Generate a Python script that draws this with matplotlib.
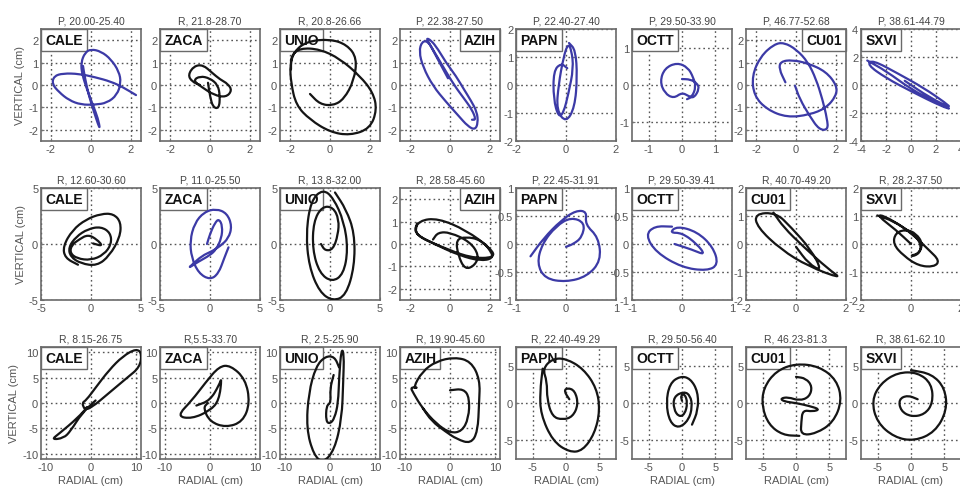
import numpy as np
import matplotlib
matplotlib.use("Agg")
import matplotlib.pyplot as plt
from matplotlib.offsetbox import AnchoredText
from matplotlib.path import Path
from matplotlib.patches import PathPatch

plt.rcParams['font.family'] = ['Liberation Sans', 'DejaVu Sans']

# station order (columns) and panel titles (rows)
stations = ['CALE', 'ZACA', 'UNIO', 'AZIH', 'PAPN', 'OCTT', 'CU01', 'SXVI']
titles_r1 = ['P, 20.00-25.40', 'R, 21.8-28.70', 'R, 20.8-26.66', 'P, 22.38-27.50',
             'P, 22.40-27.40', 'P, 29.50-33.90', 'P, 46.77-52.68', 'P, 38.61-44.79']
titles_r2 = ['R, 12.60-30.60', 'P, 11.0-25.50', 'R, 13.8-32.00', 'R, 28.58-45.60',
             'P, 22.45-31.91', 'P, 29.50-39.41', 'R, 40.70-49.20', 'R, 28.2-37.50']
titles_r3 = ['R, 8.15-26.75', 'R,5.5-33.70', 'R, 2.5-25.90', 'R, 19.90-45.60',
             'R, 22.40-49.29', 'R, 29.50-56.40', 'R, 46.23-81.3', 'R, 38.61-62.10']

# axis half-ranges and ticks
lim_r1 = [2.5, 2.5, 2.5, 2.5, 2.0, 1.5, 2.5, 4.0]
xt_r1 = [[-2, 0, 2]] * 5 + [[-1, 0, 1], [-2, 0, 2], [-4, -2, 0, 2, 4]]
yt_r1 = [[-2, -1, 0, 1, 2]] * 5 + [[-1, 0, 1], [-2, -1, 0, 1, 2], [-4, -2, 0, 2, 4]]
lim_r2 = [5, 5, 5, 2.5, 1, 1, 2, 2]
xt_r2 = [[-5, 0, 5]] * 3 + [[-2, 0, 2], [-1, 0, 1], [-1, 0, 1], [-2, 0, 2], [-2, 0, 2]]
yt_r2 = [[-5, 0, 5]] * 3 + [[-2, -1, 0, 1, 2], [-1, -0.5, 0, 0.5, 1], [-1, -0.5, 0, 0.5, 1],
                            [-2, -1, 0, 1, 2], [-2, -1, 0, 1, 2]]
lim_r3 = [11, 11, 11, 11, 7.5, 7.5, 7.5, 7.5]
xt_r3 = [[-10, 0, 10]] * 4 + [[-5, 0, 5]] * 4
yt_r3 = [[-10, -5, 0, 5, 10]] * 4 + [[-5, 0, 5]] * 4

# label box on the right for these panels
right_labels = [(0, 3), (0, 6), (1, 3)]

# particle motion traces (radial, vertical)
r1_cale = [(-0.4, 0.85), (-0.3, 0.3), (-0.1, -0.5), (0.15, -1.2), (0.35, -1.75), (0.45, -1.95),
           (0.35, -1.5), (0.1, -0.9), (-0.2, -0.2), (-0.45, 0.5), (-0.5, 1.0), (-0.3, 1.45),
           (0.0, 1.6), (0.5, 1.5), (1.0, 1.15), (1.4, 0.6), (1.5, 0.1), (1.3, -0.45),
           (0.8, -0.8), (0.2, -0.88), (-0.5, -0.88), (-1.1, -0.68), (-1.6, -0.32), (-1.95, 0.05),
           (-1.85, 0.4), (-1.4, 0.52), (-0.6, 0.5), (0.2, 0.35), (1.0, 0.15), (1.6, -0.1),
           (2.25, -0.45)]
r1_zaca = [(-0.5, 0.0), (-0.9, 0.15), (-1.1, 0.45), (-0.8, 0.85), (-0.35, 0.9), (0.1, 0.55),
           (0.5, 0.25), (0.9, 0.05), (1.1, -0.25), (0.8, -0.55), (0.2, -0.45), (-0.4, -0.1),
           (-0.85, 0.2), (-0.5, 0.4), (0.0, 0.3), (0.4, 0.0), (0.5, -0.5), (0.45, -1.05),
           (0.15, -1.0), (0.0, -0.5), (-0.1, 0.1)]
r1_unio = [(-1.0, -0.4), (-0.5, -0.86), (0.16, -0.92), (0.7, -0.63), (1.2, 0.2), (1.35, 1.2),
           (0.85, 1.8), (0.0, 2.05), (-1.15, 1.95), (-1.8, 1.5), (-2.0, 0.87), (-1.95, 0.1),
           (-1.7, -0.9), (-1.0, -1.55), (0.0, -2.1), (1.0, -2.25), (2.0, -1.95), (2.35, -1.1),
           (2.15, -0.33), (1.5, 0.4), (0.5, 1.17), (-0.5, 1.6), (-1.5, 1.65), (-1.95, 1.3),
           (-1.95, 0.7)]
r1_azih = [(-0.1, 0.3), (-0.4, 0.8), (-0.7, 1.3), (-1.0, 1.8), (-1.2, 2.1), (-0.95, 2.0),
           (-0.6, 1.6), (-0.2, 1.0), (0.3, 0.4), (0.7, -0.2), (1.05, -0.7), (1.35, -1.2),
           (1.4, -1.7), (1.25, -2.0), (0.9, -1.85), (0.4, -1.35), (-0.2, -0.75), (-0.85, -0.05),
           (-1.35, 0.8), (-1.55, 1.5), (-1.4, 1.95), (-1.1, 1.95), (-0.8, 1.5), (-0.4, 0.9),
           (0.2, 0.0), (0.7, -0.6), (1.1, -1.1), (1.3, -1.55), (1.1, -1.55)]
r1_papn = [(0.05, 0.6), (-0.2, 0.78), (-0.5, 0.5), (-0.5, -0.5), (-0.3, -1.15), (-0.1, -1.0),
           (0.1, -0.3), (0.3, 0.6), (0.22, 1.25), (0.08, 1.48), (-0.1, 1.0), (-0.3, 0.0),
           (-0.38, -0.9), (0.0, -1.35), (0.35, -0.8), (0.45, 0.3), (0.38, 1.25), (0.12, 1.5)]
r1_octt = [(0.0, 0.16), (0.25, 0.15), (0.45, 0.05), (0.52, -0.1), (0.36, -0.35), (0.2, -0.3),
           (0.0, -0.2), (-0.25, -0.36), (-0.52, -0.22), (-0.66, 0.1), (-0.52, 0.45),
           (-0.15, 0.6), (0.18, 0.47), (0.34, 0.2), (0.42, -0.05), (0.3, -0.32), (0.15, -0.38)]
r1_cu01 = [(-0.53, 0.12), (-0.85, 0.72), (-0.77, 1.05), (-0.2, 1.12), (0.6, 0.97), (1.5, 0.6),
           (2.05, -0.03), (2.0, -0.5), (1.5, -1.03), (0.68, -1.33), (-0.45, -1.45), (-1.45, -1.1),
           (-2.1, -0.48), (-2.2, 0.42), (-1.77, 1.28), (-1.1, 1.82), (-0.6, 1.9), (0.03, 1.58),
           (0.6, 1.02), (1.0, 0.27), (1.32, -0.63), (1.56, -1.53), (1.6, -2.0), (1.16, -2.0),
           (0.68, -1.38), (0.19, -0.63), (-0.05, -0.03)]
r1_sxvi = [(-3.5, 1.75), (-2.0, 1.0), (0.0, -0.3), (2.0, -1.25), (3.3, -1.75), (2.5, -1.55),
           (0.0, -0.45), (-2.0, 0.5), (-3.5, 1.45), (-3.1, 1.8), (-1.0, 0.8), (1.0, -0.2),
           (2.8, -1.3), (3.2, -1.65), (1.5, -0.9), (-0.5, 0.3)]

r2_cale = [(0.2, 0.05), (1.2, -0.2), (0.6, 0.4), (-0.3, 0.85), (-1.2, 0.4), (-1.95, -0.1),
           (-2.1, -0.8), (-1.4, -1.3), (0.0, -1.45), (1.3, -0.95), (2.05, 0.0), (1.95, 1.0),
           (1.0, 1.55), (-0.3, 1.35), (-1.5, 0.65), (-2.25, -0.3), (-2.05, -1.15), (-1.0, -1.75),
           (0.6, -1.95), (1.85, -1.05), (2.9, 0.6), (3.0, 1.95), (2.25, 2.7), (1.0, 2.7),
           (-0.5, 2.2), (-1.85, 1.25), (-2.8, -0.2), (-2.6, -1.25), (-1.3, -1.85)]
r2_zaca = [(-0.3, 0.0), (0.0, 0.9), (0.5, 1.9), (0.9, 2.25), (1.25, 1.6), (1.15, 0.5),
           (0.6, -0.5), (0.0, -1.0), (-1.2, -1.6), (-2.15, -2.15), (-1.8, -1.85), (-0.8, -1.05),
           (0.2, -0.65), (1.0, -0.2), (1.85, 0.5), (2.2, 1.6), (1.7, 2.75), (0.6, 3.15),
           (-0.6, 2.85), (-1.55, 1.85), (-2.0, 0.3), (-1.85, -1.2), (-1.15, -2.6), (0.0, -3.2),
           (0.85, -2.65), (1.45, -1.2), (1.85, -0.3)]
r2_unio = [(-0.9, 0.0), (-0.5, -0.6), (0.3, -0.5), (0.8, 0.8), (0.9, 2.2), (0.3, 3.3),
           (-0.8, 3.35), (-1.65, 2.0), (-1.75, -0.5), (-1.05, -2.6), (0.2, -3.4), (1.35, -2.7),
           (1.8, -0.5), (1.4, 2.0), (0.35, 4.1), (-0.7, 4.9), (-1.9, 3.9), (-2.4, 1.0),
           (-2.1, -2.0), (-1.05, -4.3), (0.3, -5.1), (1.6, -4.6), (2.45, -2.0), (2.45, 1.0),
           (1.6, 3.1), (0.5, 4.6)]
r2_azih = [(-0.85, 0.2), (-0.6, 0.52), (0.0, 0.52), (1.0, 0.1), (1.45, -0.5), (1.25, -0.95),
           (0.75, -1.15), (0.4, -0.5), (0.3, 0.2), (0.8, 0.32), (1.5, 0.2), (2.05, -0.3),
           (2.15, -0.65), (1.5, -0.75), (0.5, -0.52), (-0.8, 0.0), (-1.85, 0.5), (-1.55, 1.05),
           (-0.6, 1.15), (0.8, 0.62), (2.05, -0.2), (2.25, -0.62), (1.0, -0.62), (-0.5, -0.1),
           (-1.75, 0.4), (-1.65, 0.92)]
r2_papn = [(-0.71, -0.22), (-0.45, 0.1), (-0.1, 0.42), (0.2, 0.6), (0.42, 0.58), (0.38, 0.35),
           (0.65, 0.12), (0.7, -0.3), (0.42, -0.58), (0.0, -0.68), (-0.42, -0.62), (-0.58, -0.35),
           (-0.48, 0.0), (-0.2, 0.32), (0.1, 0.48), (0.38, 0.38), (0.32, 0.12), (0.15, 0.0),
           (0.0, -0.05)]
r2_octt = [(-0.15, 0.0), (0.2, -0.1), (0.47, -0.2), (0.3, 0.0), (0.0, 0.2), (-0.25, 0.2),
           (-0.1, 0.32), (0.3, 0.22), (0.62, -0.05), (0.73, -0.37), (0.5, -0.48), (0.0, -0.42),
           (-0.52, -0.15), (-0.73, 0.16), (-0.55, 0.32), (-0.2, 0.31)]
r2_cu01 = [(0.0, -0.1), (0.5, -0.7), (1.05, -0.98), (0.6, -0.2), (-0.2, 0.6), (-0.8, 1.12),
           (-1.65, 1.08), (-1.55, 0.6), (-0.6, -0.2), (0.5, -0.8), (1.85, -1.25), (1.3, -0.9),
           (0.3, -0.1), (-0.5, 0.6), (-0.9, 1.12)]
r2_sxvi = [(0.0, 0.0), (-0.6, 0.5), (-1.35, 1.02), (-1.1, 1.02), (-0.3, 0.6), (0.3, 0.2),
           (0.42, -0.2), (0.2, -0.42), (-0.05, -0.42), (0.3, -0.35), (0.48, 0.0), (0.2, 0.38),
           (-0.2, 0.52), (-0.62, 0.4), (-0.72, 0.0), (-0.3, -0.42), (0.3, -0.78), (0.92, -0.82),
           (1.15, -0.6), (0.7, -0.2), (0.0, 0.4), (-0.7, 0.82), (-1.35, 1.02)]

r3_cale = [(-1.5, -1.0), (-2.0, 0.0), (-1.0, 0.6), (1.0, 3.0), (4.0, 6.5), (7.0, 9.2),
           (10.0, 10.7), (11.2, 9.7), (10.7, 7.0), (8.0, 5.0), (4.0, 2.0), (0.0, -1.0),
           (-1.5, -1.3), (-0.5, -0.5), (-3.0, -3.0), (-7.0, -6.0), (-8.7, -7.2), (-6.0, -6.9),
           (-4.5, -5.5), (-2.0, -2.0), (1.0, 0.5)]
r3_zaca = [(-0.5, 0.0), (-1.5, -1.0), (0.0, -3.7), (3.5, -4.8), (7.2, -3.7), (8.8, 0.0),
           (7.8, 4.7), (4.5, 7.4), (2.0, 7.2), (-1.0, 4.0), (-4.0, 0.5), (-7.3, -2.6),
           (-4.0, -3.1), (0.0, -1.5), (2.0, 0.5), (2.6, 5.1), (2.0, 3.5), (0.0, 0.5),
           (-3.0, -0.5)]
r3_unio = [(0.8, 5.5), (0.0, 2.8), (0.2, 0.0), (-0.8, -0.5), (-0.9, -3.6), (0.0, -4.1),
           (1.0, -3.0), (1.8, 0.0), (2.0, 5.0), (2.5, 10.7), (3.1, 9.7), (2.9, 4.0),
           (2.6, -3.0), (1.0, -9.2), (-1.5, -11.8), (-3.6, -10.2), (-5.2, -5.0), (-4.7, 2.0),
           (-3.1, 7.2), (-1.0, 9.2), (1.0, 9.1), (2.0, 7.0)]
r3_azih = [(0.0, 2.5), (3.0, 2.8), (4.3, 1.0), (4.1, -3.0), (2.6, -5.6), (0.0, -5.9),
           (-3.0, -4.1), (-6.1, -1.0), (-8.1, 2.0), (-8.7, 3.1), (-7.0, 3.0), (-8.1, 3.0),
           (-6.1, 6.2), (-3.0, 8.2), (1.0, 9.0), (4.6, 8.2), (6.6, 4.6), (6.4, 0.0),
           (6.1, -5.6), (4.6, -8.0), (1.5, -7.1), (-1.0, -5.6), (-4.0, -3.6), (-6.0, -1.0)]
r3_papn = [(0.5, 0.5), (-0.3, 1.6), (0.2, 2.05), (1.35, 1.65), (1.85, -0.2), (1.0, -1.85),
           (-0.5, -2.25), (-2.05, -1.85), (-2.85, 0.5), (-2.85, 2.9), (-3.5, 4.6), (-2.0, 5.95),
           (0.0, 5.95), (2.6, 4.6), (4.6, 2.0), (5.1, -1.0), (4.3, -4.1), (2.5, -6.4),
           (0.5, -6.6), (-2.0, -5.1), (-3.8, -1.5), (-3.9, 1.5), (-3.5, 4.6)]
r3_octt = [(0.0, 0.3), (-0.2, 1.0), (0.4, 1.25), (0.85, 0.0), (0.4, -1.55), (-0.5, -1.85),
           (-1.25, -0.8), (-1.25, 0.85), (0.3, 1.55), (1.25, 1.0), (1.55, -0.5), (1.0, -2.3),
           (-0.5, -3.4), (-1.85, -2.55), (-2.4, 0.0), (-1.85, 2.6), (-0.3, 3.6), (1.25, 3.3),
           (2.4, 1.5), (2.4, -1.0), (1.5, -2.9)]
r3_cu01 = [(0.0, 3.5), (1.5, 3.3), (2.45, 2.2), (2.0, 0.8), (0.5, 0.3), (-1.2, 0.8),
           (-2.35, 0.6), (-1.8, 0.2), (0.0, 0.0), (2.0, -0.4), (3.6, -0.85), (2.5, -1.15),
           (1.0, -0.95), (0.8, -2.5), (0.7, -4.3), (3.0, -4.1), (5.6, -2.6), (6.9, 0.3),
           (6.1, 3.1), (3.5, 4.9), (0.0, 5.3), (-3.0, 4.3), (-4.9, 2.0), (-5.1, -0.5),
           (-4.1, -2.9), (-2.0, -4.3), (0.5, -4.4)]
r3_sxvi = [(1.0, 0.5), (-0.5, 1.05), (-1.85, 0.5), (-1.55, -1.05), (0.0, -1.85), (2.05, -1.55),
           (3.3, 0.0), (3.1, 2.6), (1.0, 4.1), (-2.0, 4.1), (-4.6, 2.6), (-5.9, 0.3),
           (-5.1, -2.6), (-2.5, -4.6), (0.5, -5.1), (3.6, -3.9), (5.4, -1.0), (5.1, 2.0),
           (3.1, 3.9), (0.0, 4.4)]

rows = [
    (titles_r1, lim_r1, xt_r1, yt_r1,
     [r1_cale, r1_zaca, r1_unio, r1_azih, r1_papn, r1_octt, r1_cu01, r1_sxvi]),
    (titles_r2, lim_r2, xt_r2, yt_r2,
     [r2_cale, r2_zaca, r2_unio, r2_azih, r2_papn, r2_octt, r2_cu01, r2_sxvi]),
    (titles_r3, lim_r3, xt_r3, yt_r3,
     [r3_cale, r3_zaca, r3_unio, r3_azih, r3_papn, r3_octt, r3_cu01, r3_sxvi]),
]


def trace_path(pts):
    # smooth drawing of the trace: the read points act as quadratic control points
    pts = np.asarray(pts, float)
    verts = [pts[0], (pts[0] + pts[1]) / 2]
    codes = [Path.MOVETO, Path.LINETO]
    for i in range(1, len(pts) - 1):
        verts += [pts[i], (pts[i] + pts[i + 1]) / 2]
        codes += [Path.CURVE3, Path.CURVE3]
    verts.append(pts[-1])
    codes.append(Path.LINETO)
    return Path(verts, codes)


W, H = 960, 489
fig = plt.figure(figsize=(W / 100, H / 100), dpi=100)

col_left = [41, 160, 280, 400, 516, 632, 746, 861]
row_top = [30, 189, 348]
box_w, box_h = 100, 112

blue = '#3c3aa6'
grey = '#555555'

for r, (titles, lims, xts, yts, traces) in enumerate(rows):
    for c in range(8):
        left = col_left[c] / W
        bottom = 1 - (row_top[r] + box_h) / H
        ax = fig.add_axes([left, bottom, box_w / W, box_h / H])
        lim = lims[c]
        ax.set_xlim(-lim, lim)
        ax.set_ylim(-lim, lim)
        ax.set_xticks(xts[c])
        ax.set_yticks(yts[c])
        ax.set_xticklabels([f'{v:g}' for v in xts[c]])
        ax.set_yticklabels([f'{v:g}' for v in yts[c]])
        ax.tick_params(direction='in', length=2, labelsize=8, labelcolor=grey,
                       color='#777777', pad=2)
        ax.set_axisbelow(True)
        ax.grid(True, linestyle=(0, (1.2, 2.2)), color='#555555', linewidth=1.0)
        for s in ax.spines.values():
            s.set_color('#6a6a6a')
            s.set_linewidth(1.2)

        title = titles[c]
        color = blue if title.startswith('P') else '#151515'
        patch = PathPatch(trace_path(traces[c]), facecolor='none', edgecolor=color,
                          linewidth=1.6, joinstyle='round', capstyle='round', zorder=3)
        ax.add_patch(patch)
        ax.set_title(title, fontsize=7.5, color='#444444', pad=4)

        loc = 'upper right' if (r, c) in right_labels else 'upper left'
        at = AnchoredText(stations[c], loc=loc, pad=0.3, borderpad=0, frameon=True,
                          prop=dict(fontsize=10, fontweight='bold', color='#111111'))
        at.patch.set_boxstyle('square,pad=0')
        at.patch.set_edgecolor('#6a6a6a')
        at.patch.set_linewidth(1.0)
        at.zorder = 2
        ax.add_artist(at)

        if c == 0:
            ax.set_ylabel('VERTICAL (cm)', fontsize=8, color=grey, labelpad=2)
        if r == 2:
            ax.set_xlabel('RADIAL (cm)', fontsize=8, color=grey, labelpad=2)

fig.savefig('out.png', dpi=100)
